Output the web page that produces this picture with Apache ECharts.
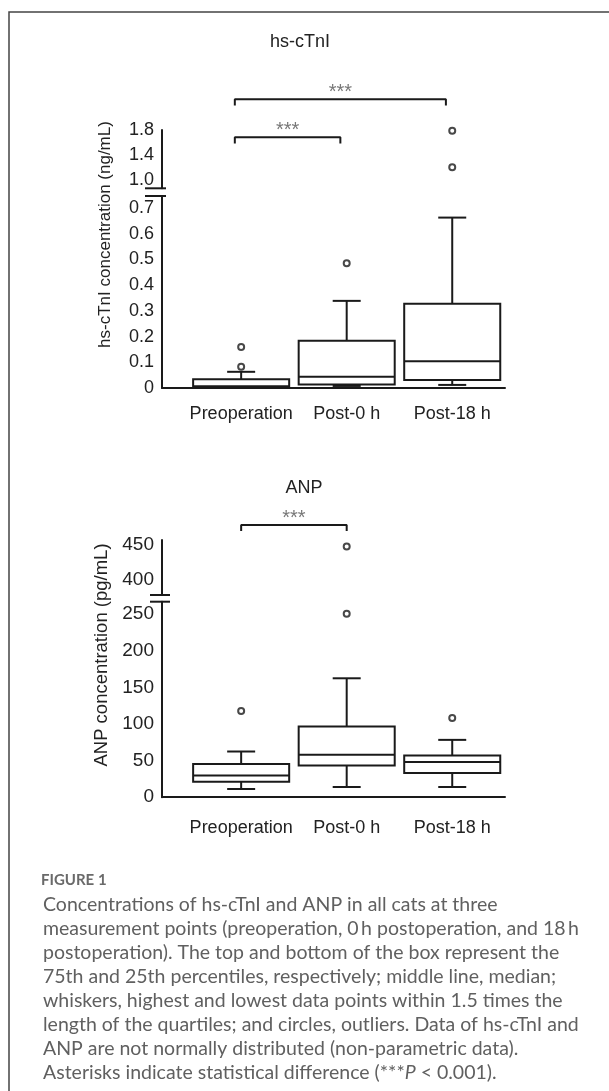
<!DOCTYPE html>
<html>
<head>
<meta charset="utf-8">
<script src="https://cdn.jsdelivr.net/npm/echarts@6/dist/echarts.min.js"></script>
<style>
html,body{margin:0;padding:0;background:#fff}
#main{width:609px;height:1091px}
</style>
</head>
<body>
<div id="main"></div>
<script>
var categories = ['Preoperation', 'Post-0 h', 'Post-18 h'];
var catX = [1, 2, 3];

// hs-cTnI (ng/mL), each box: [min, Q1, median, Q3, max]
var tnBoxes = [
  [0.002, 0.004, 0.007, 0.034, 0.063],
  [0.008, 0.014, 0.044, 0.184, 0.339],
  [0.012, 0.031, 0.104, 0.328, 0.663]
];
var tnOutliersLow = [[1, 0.160], [1, 0.083], [2, 0.485]];
var tnOutliersHigh = [[3, 1.79], [3, 1.21]];
var tnTicksLow = [0, 0.1, 0.2, 0.3, 0.4, 0.5, 0.6, 0.7];
var tnTicksHigh = [1.0, 1.4, 1.8];
var tnPairs = [[1, 2], [1, 3]];

// ANP (pg/mL)
var anpBoxes = [
  [11.2, 21.1, 29.7, 45.2, 62.4],
  [13.9, 43.3, 57.9, 96.5, 162.4],
  [13.9, 33.0, 48.0, 57.0, 78.3]
];
var anpOutliersLow = [[1, 117.8], [2, 250.5], [3, 108.3]];
var anpOutliersHigh = [[2, 447.5]];
var anpTicksLow = [0, 50, 100, 150, 200, 250];
var anpTicksHigh = [400, 450];
var anpPairs = [[1, 2]];

var sigLabel = '***';

var dom = document.getElementById('main');
var myChart = echarts.init(dom);

var INK = '#1a1a1a';
var FONT = 'Liberation Sans';
var BOX_W = 0.91;   // in x units
var CAP_W = 28;     // px

function gridAt(top, height) {
  return { left: 162, right: 104, top: top, height: height };
}
function hiddenX(g) {
  return { gridIndex: g, type: 'value', min: 0.25, max: 3.5, show: false };
}
function hiddenY(g, min, max) {
  return { gridIndex: g, type: 'value', min: min, max: max, show: false };
}
function catAxis(g, margin) {
  return {
    gridIndex: g, type: 'value', min: 0.25, max: 3.5,
    axisLine: { show: true, onZero: false, lineStyle: { color: INK, width: 2 } },
    axisTick: { show: false }, splitLine: { show: false },
    axisLabel: {
      customValues: catX, margin: margin, fontSize: 18, color: '#222', fontFamily: FONT,
      formatter: function (v) { return categories[catX.indexOf(v)]; }
    }
  };
}
function valAxis(g, min, max, ticks, fs, fmt) {
  return {
    gridIndex: g, type: 'value', min: min, max: max,
    axisLine: { show: true, onZero: false, lineStyle: { color: INK, width: 2 } },
    axisTick: { show: false }, splitLine: { show: false },
    axisLabel: { customValues: ticks, margin: 8, fontSize: fs, color: '#222', fontFamily: FONT, formatter: fmt }
  };
}
var fmtTn = function (v) { return v === 0 ? '0' : v.toFixed(1); };

function boxSeries(axisIdx, boxes) {
  return {
    type: 'custom', xAxisIndex: axisIdx, yAxisIndex: axisIdx,
    data: boxes.map(function (b, i) { return [catX[i]].concat(b); }),
    encode: { x: 0, y: [1, 2, 3, 4, 5] },
    renderItem: function (params, api) {
      var x = api.value(0);
      var pt = function (d) { return api.coord([x, api.value(d)]); };
      var lo = pt(1), q1 = pt(2), md = pt(3), q3 = pt(4), hi = pt(5);
      var cx = lo[0];
      var hw = api.size([BOX_W, 0])[0] / 2;
      var cw = CAP_W / 2;
      var st = { stroke: INK, lineWidth: 2, fill: 'none' };
      function ln(x1, y1, x2, y2) {
        return { type: 'line', shape: { x1: x1, y1: y1, x2: x2, y2: y2 }, style: st };
      }
      return {
        type: 'group',
        children: [
          ln(cx, q3[1], cx, hi[1]),
          ln(cx, q1[1], cx, lo[1]),
          ln(cx - cw, hi[1], cx + cw, hi[1]),
          ln(cx - cw, lo[1], cx + cw, lo[1]),
          { type: 'rect', shape: { x: cx - hw, y: q3[1], width: hw * 2, height: q1[1] - q3[1] },
            style: { stroke: INK, lineWidth: 2, fill: '#fff' } },
          ln(cx - hw, md[1], cx + hw, md[1])
        ]
      };
    }
  };
}
function outlierSeries(axisIdx, pts) {
  return {
    type: 'scatter', xAxisIndex: axisIdx, yAxisIndex: axisIdx, data: pts,
    symbol: 'circle', symbolSize: 6, z: 5,
    itemStyle: { color: '#fff', borderColor: INK, borderWidth: 2 }
  };
}
function bracketSeries(axisIdx, pairs, nudge) {
  var out = [];
  pairs.forEach(function (p, i) {
    var lvl = i + 1, a = p[0] + nudge, b = p[1] + nudge;
    out.push({
      type: 'line', xAxisIndex: axisIdx, yAxisIndex: axisIdx, symbol: 'none',
      data: [[a, lvl - 0.16], [a, lvl], [b, lvl], [b, lvl - 0.16]],
      lineStyle: { color: INK, width: 2 }
    });
    out.push({
      type: 'scatter', xAxisIndex: axisIdx, yAxisIndex: axisIdx, symbolSize: 0,
      data: [[(a + b) / 2, lvl]],
      label: { show: true, position: 'top', distance: -3, formatter: sigLabel,
        fontSize: 20, color: '#555', fontFamily: FONT }
    });
  });
  return out;
}

var captionLines = [
  'Concentrations of hs-cTnI and ANP in all cats at three',
  'measurement points (preoperation, 0\u2009h postoperation, and 18\u2009h',
  'postoperation). The top and bottom of the box represent the',
  '75th and 25th percentiles, respectively; middle line, median;',
  'whiskers, highest and lowest data points within 1.5 times the',
  'length of the quartiles; and circles, outliers. Data of hs-cTnI and',
  'ANP are not normally distributed (non-parametric data).',
  'Asterisks indicate statistical difference (***{i|P} < 0.001).'
];

option = {
  backgroundColor: '#fff',
  animation: false,
  title: [
    { text: 'hs-cTnI', left: 300, top: 33, textAlign: 'center', padding: 0,
      textStyle: { fontSize: 18, fontWeight: 'normal', color: '#222', fontFamily: FONT } },
    { text: 'ANP', left: 304, top: 479, textAlign: 'center', padding: 0,
      textStyle: { fontSize: 18, fontWeight: 'normal', color: '#222', fontFamily: FONT } },
    { text: 'FIGURE 1', left: 41, top: 873, padding: 0,
      textStyle: { fontSize: 15, fontWeight: 'bold', color: '#6a6a6a', fontFamily: 'Lato' } },
    { text: captionLines.join('\n'), left: 43, top: 893, padding: 0,
      textStyle: { fontSize: 19.5, fontWeight: 'normal', color: '#606060', fontFamily: 'Lato', lineHeight: 24,
        rich: { i: { fontStyle: 'italic', fontSize: 19.5, color: '#606060', fontFamily: 'Lato', lineHeight: 24 } } } }
  ],
  grid: [
    gridAt(130, 58.3),     // hs-cTnI upper segment
    gridAt(196, 192),      // hs-cTnI lower segment
    gridAt(61.3, 114),     // hs-cTnI brackets
    gridAt(540, 55),       // ANP upper segment
    gridAt(601.7, 195.5),  // ANP lower segment
    gridAt(449, 114)       // ANP brackets
  ],
  xAxis: [hiddenX(0), catAxis(1, 17), hiddenX(2), hiddenX(3), catAxis(4, 22), hiddenX(5)],
  yAxis: [
    valAxis(0, 0.875, 1.8, tnTicksHigh, 18, fmtTn),
    valAxis(1, 0, 0.747, tnTicksLow, 18, fmtTn),
    hiddenY(2, 0, 3),
    valAxis(3, 378, 457, anpTicksHigh, 19),
    valAxis(4, 0, 267, anpTicksLow, 19),
    hiddenY(5, 0, 3)
  ],
  series: [
    boxSeries(1, tnBoxes),
    outlierSeries(1, tnOutliersLow),
    outlierSeries(0, tnOutliersHigh),
    boxSeries(4, anpBoxes),
    outlierSeries(4, anpOutliersLow),
    outlierSeries(3, anpOutliersHigh)
  ].concat(bracketSeries(2, tnPairs, -0.06), bracketSeries(5, anpPairs, 0)),
  graphic: [
    { type: 'polyline', shape: { points: [[9, 1091], [9, 12], [609, 12]] },
      style: { stroke: '#444', lineWidth: 1.5, fill: null } },
    // axis break marks
    { type: 'line', shape: { x1: 145, y1: 188.3, x2: 166, y2: 188.3 }, style: { stroke: INK, lineWidth: 2 } },
    { type: 'line', shape: { x1: 145, y1: 196, x2: 166, y2: 196 }, style: { stroke: INK, lineWidth: 2 } },
    { type: 'line', shape: { x1: 150, y1: 595, x2: 170, y2: 595 }, style: { stroke: INK, lineWidth: 2 } },
    { type: 'line', shape: { x1: 150, y1: 601.7, x2: 170, y2: 601.7 }, style: { stroke: INK, lineWidth: 2 } },
    // y axis names
    { type: 'text', x: 105, y: 234.5, rotation: Math.PI / 2,
      style: { text: 'hs-cTnI concentration (ng/mL)', font: '17px "Liberation Sans"', fill: '#222',
        align: 'center', verticalAlign: 'middle' } },
    { type: 'text', x: 102, y: 655, rotation: Math.PI / 2,
      style: { text: 'ANP concentration (pg/mL)', font: '18.5px "Liberation Sans"', fill: '#222',
        align: 'center', verticalAlign: 'middle' } }
  ]
};

myChart.setOption(option);
</script>
</body>
</html>
